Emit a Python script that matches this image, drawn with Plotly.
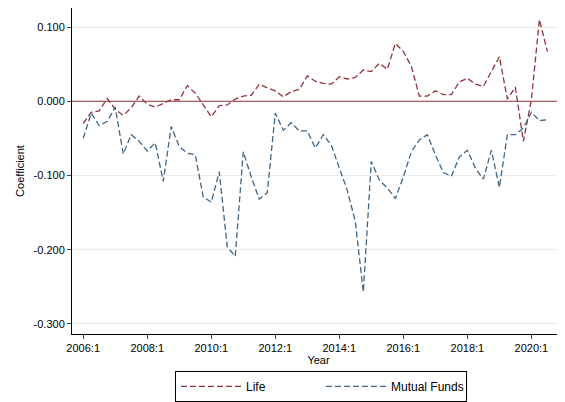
import plotly.graph_objects as go

life = [-0.030,-0.015,-0.013,0.004,-0.011,-0.019,-0.009,0.007,-0.004,-0.008,-0.003,0.002,0.002,0.021,0.011,-0.005,-0.021,-0.006,-0.005,0.003,0.007,0.008,0.023,0.018,0.014,0.006,0.013,0.016,
        0.034,0.027,0.024,0.023,0.033,0.030,0.032,0.042,0.040,0.051,0.043,0.078,0.067,0.047,0.007,0.007,0.014,0.009,0.009,0.026,0.031,0.023,0.020,0.040,0.060,0.003,0.019,-0.054,0.002,0.110,0.067]
mutual = [-0.050,-0.016,-0.033,-0.027,-0.008,-0.071,-0.045,-0.054,-0.067,-0.056,-0.108,-0.034,-0.061,-0.070,-0.072,-0.129,-0.136,-0.095,-0.196,-0.209,-0.068,-0.102,-0.132,-0.123,-0.016,-0.039,-0.029,-0.040,
          -0.040,-0.063,-0.045,-0.059,-0.090,-0.120,-0.162,-0.257,-0.081,-0.106,-0.117,-0.131,-0.102,-0.068,-0.052,-0.045,-0.072,-0.096,-0.101,-0.075,-0.066,-0.090,-0.105,-0.066,-0.116,-0.045,-0.045,-0.036,-0.015,-0.026,-0.025]
quarters = list(range(len(life)))
tick_pos = [0, 8, 16, 24, 32, 40, 48, 56]
tick_labels = ["2006:1","2008:1","2010:1","2012:1","2014:1","2016:1","2018:1","2020:1"]
y_ticks = [0.1, 0.0, -0.1, -0.2, -0.3]
y_labels = ["0.100","0.000","-0.100","-0.200","-0.300"]

fig = go.Figure()
fig.add_trace(go.Scatter(x=quarters, y=life, mode="lines", name="Life",
                         line=dict(color="#90353b", width=1.3, dash="6px,3px")))
fig.add_trace(go.Scatter(x=quarters, y=mutual, mode="lines", name="Mutual Funds",
                         line=dict(color="#3e6686", width=1.3, dash="6px,3px")))
fig.add_hline(y=0, line=dict(color="#90353b", width=1.2))
fig.update_layout(
    width=565, height=402, paper_bgcolor="white", plot_bgcolor="white",
    margin=dict(l=64, r=8, t=0, b=76, autoexpand=False),
    font=dict(family="Liberation Sans, Arial", size=11, color="black"),
    showlegend=True,
    legend=dict(orientation="h", x=0.505, xanchor="center", yref="container", y=0.02, yanchor="bottom",
                bordercolor="black", borderwidth=1, font=dict(size=12),
                itemwidth=60, entrywidth=70, entrywidthmode="pixels"),
    xaxis=dict(range=[-1.4, 60.2], tickvals=tick_pos, ticktext=tick_labels,
               showgrid=False, showline=True, linecolor="black", ticks="outside",
               ticklen=4, zeroline=False, title=dict(text="Year", standoff=0, font=dict(size=11))),
    yaxis=dict(range=[-0.3135, 0.1256], tickvals=y_ticks, ticktext=y_labels,
               showgrid=True, gridcolor="#ececec", showline=True, linecolor="black",
               ticks="outside", ticklen=4, zeroline=False,
               title=dict(text="Coefficient", standoff=6, font=dict(size=11))),
)
fig.write_html("out.html")
